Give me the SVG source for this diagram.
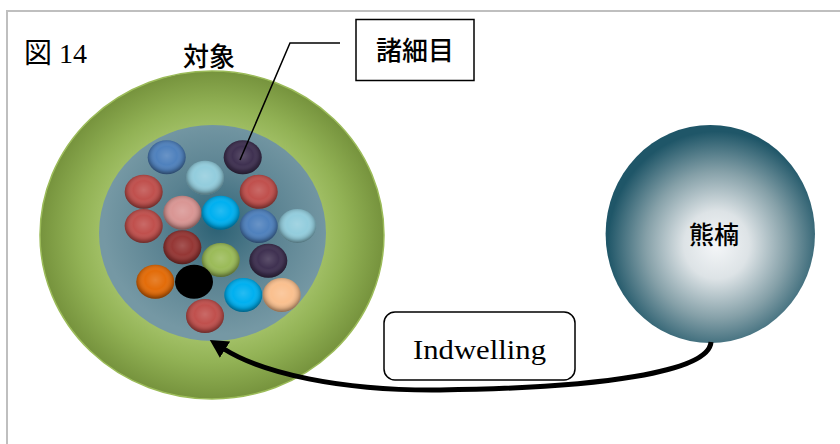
<svg xmlns="http://www.w3.org/2000/svg" width="840" height="444" viewBox="0 0 840 444">
<style>
.cjk{font-family:"Noto Sans CJK JP","Noto Sans",sans-serif;fill:#000}
.ser{font-family:"Liberation Serif","Noto Sans CJK JP",serif;fill:#000}
.ball{stroke:none}
.shade{fill:url(#ballShade)}
</style>
<defs>
<radialGradient id="ringGrad" cx="0.5" cy="0.5" r="0.5">
<stop offset="0.6" stop-color="#a6c46b"/>
<stop offset="0.78" stop-color="#92b255"/>
<stop offset="1" stop-color="#76933d"/>
</radialGradient>
<radialGradient id="coreGrad" cx="0.52" cy="0.47" r="0.5">
<stop offset="0" stop-color="#2c6174"/>
<stop offset="0.5" stop-color="#5a8291"/>
<stop offset="1" stop-color="#7598a4"/>
</radialGradient>
<radialGradient id="kumaGrad" cx="0.53" cy="0.55" r="0.52">
<stop offset="0" stop-color="#f4f6f8"/>
<stop offset="0.3" stop-color="#dde3e6"/>
<stop offset="0.65" stop-color="#85a0a8"/>
<stop offset="1" stop-color="#1f5668"/>
</radialGradient>
<radialGradient id="ballShade" cx="0.5" cy="0.45" r="0.55">
<stop offset="0" stop-color="#fff" stop-opacity="0.15"/>
<stop offset="0.5" stop-color="#fff" stop-opacity="0"/>
<stop offset="0.8" stop-color="#000" stop-opacity="0.15"/>
<stop offset="1" stop-color="#000" stop-opacity="0.45"/>
</radialGradient>
<marker id="arrow" markerUnits="userSpaceOnUse" markerWidth="24" markerHeight="24" viewBox="0 -10 20 20" refX="1" refY="0" orient="auto">
<path d="M0,-8 L15,0 L0,8 z" fill="#000"/>
</marker>
</defs>

<rect x="7" y="11" width="860" height="460" fill="#fff" stroke="#bfbfbf" stroke-width="2"/>

<g id="title">
<text class="ser" x="24" y="63" font-size="28">図 14</text>
</g>

<g id="taisho">
<ellipse cx="212" cy="235" rx="172" ry="164" fill="url(#ringGrad)" stroke="#9bbb59" stroke-width="1.5"/>
<ellipse cx="212.5" cy="233" rx="113.5" ry="108" fill="url(#coreGrad)"/>
<text class="cjk" x="209" y="66" font-size="26" font-weight="500" text-anchor="middle">対象</text>
</g>

<g id="saimoku">
<g transform="translate(166.7,157.3)"><ellipse rx="19" ry="17" fill="#4f81bd"/><ellipse rx="19" ry="17" class="shade"/></g>
<g transform="translate(242.7,157.3)"><ellipse rx="19" ry="17" fill="#3f3151"/><ellipse rx="19" ry="17" class="shade"/></g>
<g transform="translate(205,177.7)"><ellipse rx="19" ry="17" fill="#93cddd"/><ellipse rx="19" ry="17" class="shade"/></g>
<g transform="translate(143.7,191.7)"><ellipse rx="19" ry="17" fill="#c0504d"/><ellipse rx="19" ry="17" class="shade"/></g>
<g transform="translate(258.7,191.7)"><ellipse rx="19" ry="17" fill="#c0504d"/><ellipse rx="19" ry="17" class="shade"/></g>
<g transform="translate(143.7,226)"><ellipse rx="19" ry="17" fill="#c0504d"/><ellipse rx="19" ry="17" class="shade"/></g>
<g transform="translate(182.3,212.7)"><ellipse rx="19" ry="17" fill="#d99694"/><ellipse rx="19" ry="17" class="shade"/></g>
<g transform="translate(220.7,212.7)"><ellipse rx="19" ry="17" fill="#00b0f0"/><ellipse rx="19" ry="17" class="shade"/></g>
<g transform="translate(258.7,226)"><ellipse rx="19" ry="17" fill="#4f81bd"/><ellipse rx="19" ry="17" class="shade"/></g>
<g transform="translate(297.3,226)"><ellipse rx="19" ry="17" fill="#93cddd"/><ellipse rx="19" ry="17" class="shade"/></g>
<g transform="translate(182.3,247.3)"><ellipse rx="19" ry="17" fill="#953735"/><ellipse rx="19" ry="17" class="shade"/></g>
<g transform="translate(220.7,260)"><ellipse rx="19" ry="17" fill="#9bbb59"/><ellipse rx="19" ry="17" class="shade"/></g>
<g transform="translate(268.3,260.7)"><ellipse rx="19" ry="17" fill="#3f3151"/><ellipse rx="19" ry="17" class="shade"/></g>
<g transform="translate(155.3,281.7)"><ellipse rx="19" ry="17" fill="#e36c09"/><ellipse rx="19" ry="17" class="shade"/></g>
<g transform="translate(194,281.7)"><ellipse rx="19" ry="17" fill="#000"/></g>
<g transform="translate(243.3,295)"><ellipse rx="19" ry="17" fill="#00b0f0"/><ellipse rx="19" ry="17" class="shade"/></g>
<g transform="translate(281.7,295)"><ellipse rx="19" ry="17" fill="#fac08f"/><ellipse rx="19" ry="17" class="shade"/></g>
<g transform="translate(205,316)"><ellipse rx="19" ry="17" fill="#c0504d"/><ellipse rx="19" ry="17" class="shade"/></g>
</g>

<g id="saimoku-label">
<rect x="356" y="19.5" width="118" height="61" fill="#fff" stroke="#000" stroke-width="1.5"/>
<text class="cjk" x="415" y="60" font-size="26" font-weight="500" text-anchor="middle">諸細目</text>
</g>

<g id="kumagusu">
<ellipse cx="710.3" cy="234" rx="104.7" ry="109" fill="url(#kumaGrad)"/>
<text class="cjk" x="714" y="244" font-size="25" font-weight="500" text-anchor="middle">熊楠</text>
</g>

<g id="connectors" fill="none" stroke="#000">
<path d="M340,43 L290,43 L240,160" stroke-width="1.5"/>
<path d="M711,342 C709,372 600,388 440,390 C340,391 262,373 224,349" stroke-width="5" marker-end="url(#arrow)"/>
</g>

<g id="indwelling">
<rect x="384" y="312" width="191" height="68" rx="11" fill="#fff" stroke="#000" stroke-width="1.5"/>
<text class="ser" x="479.5" y="359" font-size="27" text-anchor="middle" textLength="133" lengthAdjust="spacingAndGlyphs">Indwelling</text>
</g>
</svg>
